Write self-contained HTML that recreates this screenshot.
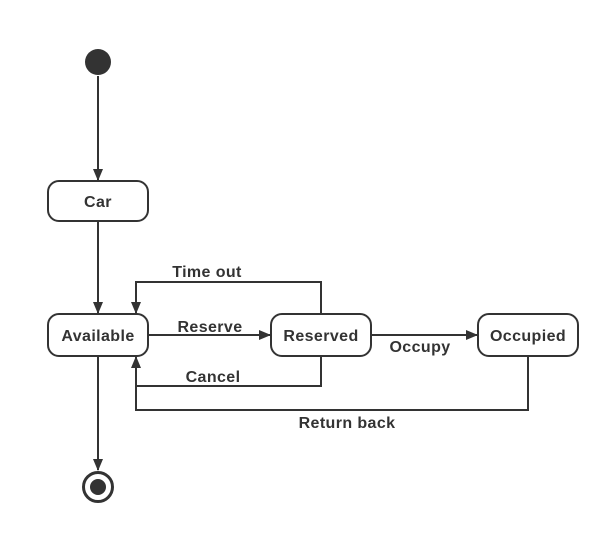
<!DOCTYPE html>
<html><head><meta charset="utf-8"><style>
html,body{margin:0;padding:0;background:#fff;}
svg text{font-family:"Liberation Sans",sans-serif;font-weight:bold;font-size:16px;letter-spacing:0.4px;fill:#333;}
</style></head><body>
<svg width="610" height="533" viewBox="0 0 610 533" xmlns="http://www.w3.org/2000/svg">
<defs>
<marker id="a" markerWidth="12" markerHeight="10" refX="11" refY="5" orient="auto" markerUnits="userSpaceOnUse">
<path d="M0,0 L12,5 L0,10 Z" fill="#333"/>
</marker>
</defs>
<g stroke="#333" stroke-width="2" fill="none">
<circle cx="98" cy="62" r="13" fill="#333" stroke="none"/>
<line x1="98" y1="76" x2="98" y2="180" marker-end="url(#a)"/>
<rect x="48" y="181" width="100" height="40" rx="11" fill="#fff"/>
<line x1="98" y1="222" x2="98" y2="313" marker-end="url(#a)"/>
<rect x="48" y="314" width="100" height="42" rx="11" fill="#fff"/>
<rect x="271" y="314" width="100" height="42" rx="11" fill="#fff"/>
<rect x="478" y="314" width="100" height="42" rx="11" fill="#fff"/>
<line x1="149" y1="335" x2="270" y2="335" marker-end="url(#a)"/>
<line x1="372" y1="335" x2="477" y2="335" marker-end="url(#a)"/>
<polyline points="321,313 321,282 136,282 136,313" marker-end="url(#a)"/>
<polyline points="321,357 321,386 136,386 136,357" marker-end="url(#a)"/>
<polyline points="528,357 528,410 136,410 136,386"/>
<line x1="98" y1="357" x2="98" y2="470" marker-end="url(#a)"/>
<circle cx="98" cy="487" r="14.5" stroke-width="3" fill="#fff"/>
<circle cx="98" cy="487" r="8" fill="#333" stroke="none"/>
</g>
<text x="98" y="207" text-anchor="middle">Car</text>
<text x="98" y="341" text-anchor="middle">Available</text>
<text x="321" y="341" text-anchor="middle">Reserved</text>
<text x="528" y="341" text-anchor="middle">Occupied</text>
<text x="207" y="277" text-anchor="middle">Time out</text>
<text x="210" y="332" text-anchor="middle">Reserve</text>
<text x="420" y="352" text-anchor="middle">Occupy</text>
<text x="213" y="382" text-anchor="middle">Cancel</text>
<text x="347" y="428" text-anchor="middle">Return back</text>
</svg>
</body></html>
